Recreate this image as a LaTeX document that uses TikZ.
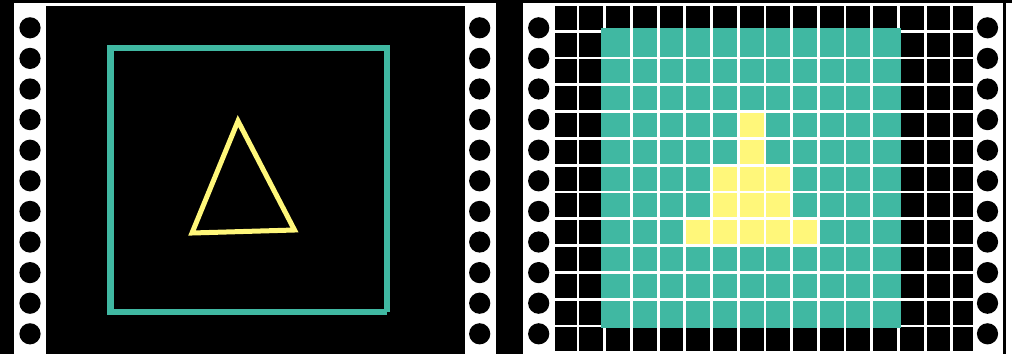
\documentclass[tikz,border=0pt]{standalone}
\definecolor{tealc}{HTML}{40B8A2}
\definecolor{yellowc}{HTML}{FFF77A}
\tikzset{
  hole/.style={fill=black},
  gridline/.style={draw=white, line width=2.8pt},
  frameline/.style={draw=tealc, line width=6.5pt, line join=miter},
  triline/.style={draw=yellowc, line width=5pt, line join=miter},
}
\begin{document}
\begin{tikzpicture}[x=1pt,y=-1pt]
\useasboundingbox (0,0) rectangle (1012,354);
\fill[black] (0,0) rectangle (1012,354);
% ---------- left panel ----------
\fill[white] (14,3) rectangle (496,354);
\fill[black] (46,6) rectangle (465,354);
\foreach \i in {0,...,10} {
  \fill[hole] (30,27.8+30.6*\i) circle (10.6);
  \fill[hole] (479.7,27.8+30.6*\i) circle (10.6);
}
\draw[frameline] (387,312) -- (387,48) -- (110.7,48) -- (110.7,312) -- (387,312);
\draw[triline] (238,121) -- (294.5,230) -- (192,233) -- cycle;
% ---------- right panel ----------
\fill[white] (523,3) rectangle (1012,354);
\fill[black] (1003.3,3) rectangle (1005.6,354);
\foreach \i in {0,...,10} {
  \fill[hole] (538.7,27.8+30.6*\i) circle (10.6);
  \fill[hole] (987.5,27.8+30.6*\i) circle (10.6);
}
\fill[black] (555,6) rectangle (973,351);
\foreach \k in {0,...,14} \draw[gridline] (578+26.7*\k,6) -- (578+26.7*\k,351);
\foreach \k in {0,...,11} \draw[gridline] (555,31.2+26.8*\k) -- (973,31.2+26.8*\k);
% teal block
\fill[tealc] (601,28.3) rectangle (900.6,328.3);
% yellow cells
\fill[yellowc] (738.2,111.6) rectangle (764.9,165.2);
\fill[yellowc] (711.5,165.2) rectangle (791.6,218.8);
\fill[yellowc] (684.8,218.8) rectangle (818.3,245.6);
% inner grid lines over the block
\foreach \k in {2,...,11} \draw[gridline] (578+26.7*\k,28.3) -- (578+26.7*\k,328.3);
\foreach \k in {1,...,10} \draw[gridline] (601,31.2+26.8*\k) -- (900.6,31.2+26.8*\k);
\end{tikzpicture}
\end{document}
